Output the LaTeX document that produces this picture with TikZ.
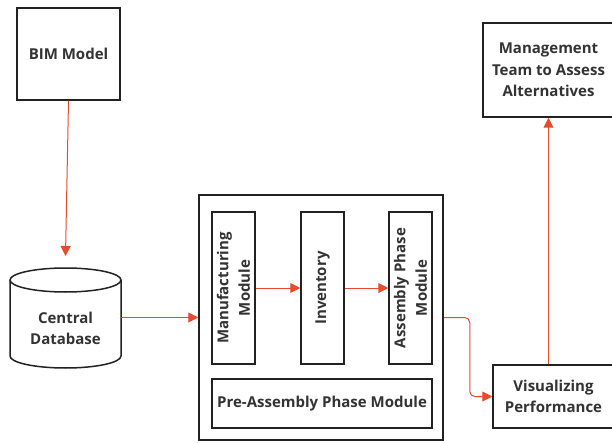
\documentclass[tikz,border=0pt]{standalone}
\usepackage{fontspec}
\setmainfont{Open Sans}
\usepackage{tikz}
\usetikzlibrary{arrows.meta,positioning,calc}
\definecolor{flowred}{HTML}{E84A2C}
\definecolor{boxline}{HTML}{222222}
\definecolor{boxtext}{HTML}{333333}

\begin{document}
\begin{tikzpicture}[x=1pt,y=1pt,
  box/.style={draw=boxline,line width=1.5pt,fill=white,align=center,inner sep=0pt,
    text=boxtext,font=\fontsize{15}{21.5}\selectfont\bfseries},
  flow/.style={draw=flowred,line width=1pt,-{Triangle[length=10pt,width=10pt]}},
  dbline/.style={draw=boxline,line width=1.5pt}]
  \useasboundingbox (0,0) rectangle (612,442);

  \node[box,minimum width=103,minimum height=92] (bim) at (68.5,388) {BIM Model};

  % central database drawn round its text
  \node[align=center,text=boxtext,font=\fontsize{15}{21.5}\selectfont\bfseries,
    minimum width=111] (db) at (65.5,113.5) {Central\\Database};
  \draw[dbline] ($(db.center)+(-55.5,48.5)$) -- ($(db.center)+(-55.5,-27.5)$)
    arc[start angle=180,end angle=360,x radius=55.5,y radius=12]
    -- ($(db.center)+(55.5,48.5)$);
  \draw[dbline] ($(db.center)+(0,48.5)$) ellipse[x radius=55.5,y radius=12];
  \coordinate (dbin) at ($(db.center)+(0,72.5)$);

  \node[box,minimum width=244,minimum height=245] (outer) at (321,124.5) {};
  \node[box,rotate=90,minimum width=152,minimum height=43] (manu) at (233.5,154) {Manufacturing\\Module};
  \node[box,rotate=90,minimum width=152,minimum height=43] (inv) at (322.5,154) {Inventory};
  \node[box,rotate=90,minimum width=152,minimum height=43] (asm) at (410.5,154) {Assembly Phase\\Module};
  \node[box,minimum width=220,minimum height=49] (pre) at (322,38.5) {Pre-Assembly Phase Module};

  \node[box,minimum width=121,minimum height=63] (vis) at (553.5,45.5) {Visualizing\\Performance};
  \node[box,minimum width=131,minimum height=94] (mgmt) at (548.5,372) {Management\\Team to Assess\\Alternatives};

  \draw[flow] (bim.south) -- (dbin);
  \draw[flow] (db.east |- outer.west) -- (outer.west);
  \draw[flow] (manu.south) -- (inv.north);
  \draw[flow] (inv.south) -- (asm.north);
  \draw[flow,rounded corners=5pt] (outer.east) -- ++(26,0) |- (vis.west);
  \draw[flow] (mgmt.south |- vis.north) -- (mgmt.south);
\end{tikzpicture}
\end{document}
